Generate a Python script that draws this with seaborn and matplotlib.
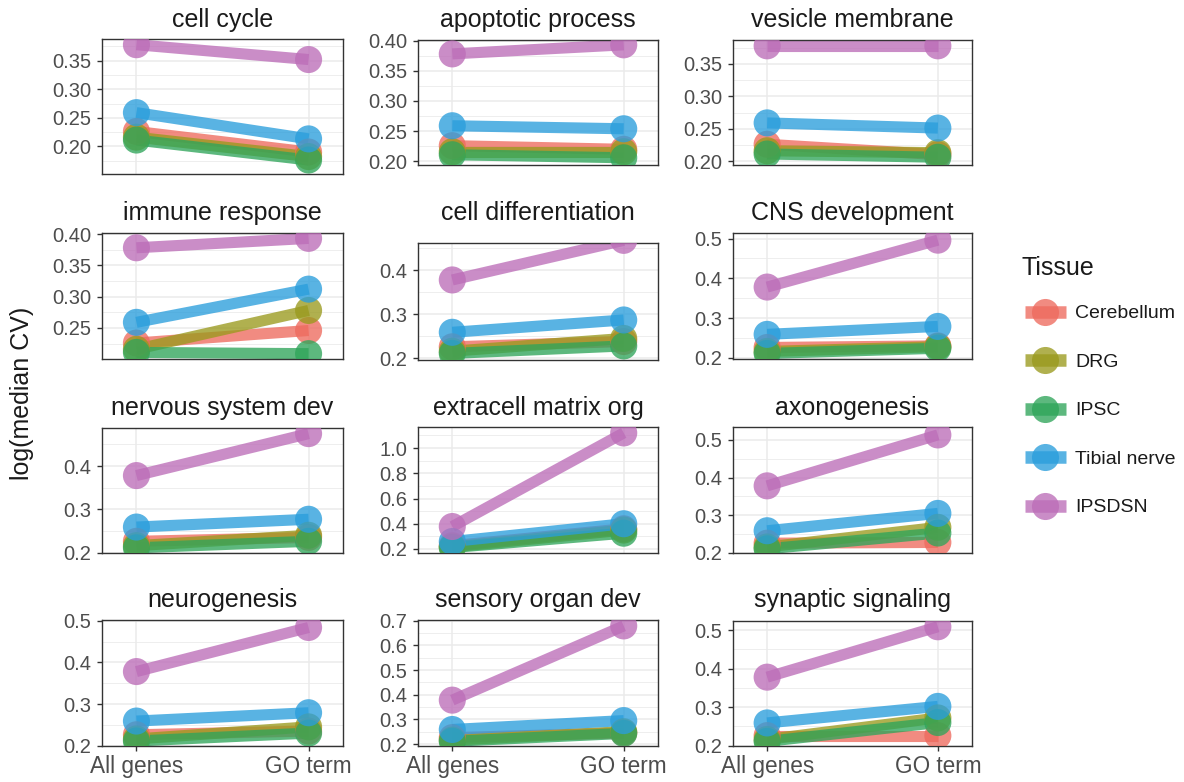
import matplotlib
matplotlib.use("Agg")
import matplotlib.pyplot as plt
from matplotlib.ticker import MultipleLocator, FormatStrFormatter
from matplotlib.lines import Line2D
import pandas as pd
import seaborn as sns

# ---- data -----------------------------------------------------------------
conditions = ["All genes", "GO term"]
tissues = ["Cerebellum", "DRG", "IPSC", "Tibial nerve", "IPSDSN"]
go_terms = ["cell cycle", "apoptotic process", "vesicle membrane",
            "immune response", "cell differentiation", "CNS development",
            "nervous system dev", "extracell matrix org", "axonogenesis",
            "neurogenesis", "sensory organ dev", "synaptic signaling"]

# log(median CV) over all genes, one value per tissue
all_genes_cv = [0.226, 0.216, 0.211, 0.259, 0.378]

# log(median CV) for the genes of each GO term, one list per tissue
cerebellum_go = [0.190, 0.220, 0.210, 0.246, 0.238, 0.230,
                 0.235, 0.360, 0.228, 0.235, 0.245, 0.226]
drg_go = [0.182, 0.216, 0.213, 0.278, 0.245, 0.228,
          0.240, 0.350, 0.268, 0.245, 0.250, 0.272]
ipsc_go = [0.176, 0.206, 0.206, 0.209, 0.228, 0.224,
           0.226, 0.325, 0.253, 0.230, 0.243, 0.260]
tibial_go = [0.213, 0.254, 0.251, 0.312, 0.287, 0.279,
             0.277, 0.400, 0.305, 0.279, 0.295, 0.302]
ipsdsn_go = [0.352, 0.393, 0.378, 0.393, 0.468, 0.496,
             0.475, 1.120, 0.513, 0.484, 0.679, 0.509]

go_values = [cerebellum_go, drg_go, ipsc_go, tibial_go, ipsdsn_go]

rows = []
for t_idx, tissue in enumerate(tissues):
    for g_idx, term in enumerate(go_terms):
        rows.append((term, tissue, 0, all_genes_cv[t_idx]))
        rows.append((term, tissue, 1, go_values[t_idx][g_idx]))
df = pd.DataFrame(rows, columns=["term", "Tissue", "pos", "cv"])

# ---- styling --------------------------------------------------------------
sns.set_theme(style="white")
plt.rcParams["font.family"] = ["Liberation Sans", "DejaVu Sans"]
plt.rcParams["lines.solid_capstyle"] = "butt"

palette = {
    "Cerebellum": "#EE6A5E",
    "DRG": "#9A9A1E",
    "IPSC": "#2FA55A",
    "Tibial nerve": "#2A9EDC",
    "IPSDSN": "#BC6DB8",
}
ALPHA = 0.78

# per-panel y axis ranges and tick steps
y_lims = [(0.1515, 0.388), (0.194, 0.401), (0.194, 0.387),
          (0.2005, 0.4016), (0.196, 0.462), (0.197, 0.514),
          (0.199, 0.488), (0.168, 1.167), (0.200, 0.534),
          (0.199, 0.502), (0.192, 0.703), (0.199, 0.524)]
y_steps = [0.05, 0.05, 0.05, 0.05, 0.1, 0.1, 0.1, 0.2, 0.1, 0.1, 0.1, 0.1]

# panel boxes in pixels: left, top, right, bottom
boxes = [(102, 39, 343, 174), (418, 40, 658, 165), (733, 40, 972, 165),
         (102, 233, 343, 359), (418, 243, 658, 360), (733, 233, 972, 359),
         (102, 428, 343, 553), (418, 427, 658, 553), (733, 427, 972, 553),
         (102, 620, 343, 746), (418, 620, 658, 746), (733, 621, 972, 746)]
# baseline of each row of panel titles, in pixels
title_base = [27, 220, 415, 607]

W, H = 1184, 782
fig = plt.figure(figsize=(W / 100, H / 100), dpi=100)
fig.patch.set_facecolor("white")

grid_col = "#EBEBEB"
for i, term in enumerate(go_terms):
    l, t, r, b = boxes[i]
    ax = fig.add_axes([l / W, 1 - b / H, (r - l) / W, (b - t) / H])
    sub = df[df["term"] == term]

    sns.lineplot(data=sub, x="pos", y="cv", hue="Tissue", hue_order=tissues,
                 palette=palette, linewidth=8, alpha=ALPHA, legend=False,
                 ax=ax, zorder=2)
    sns.scatterplot(data=sub, x="pos", y="cv", hue="Tissue",
                    hue_order=tissues, palette=palette, s=380, alpha=ALPHA,
                    linewidth=0, legend=False, ax=ax, zorder=3)

    step = y_steps[i]
    ax.set_ylim(*y_lims[i])
    ax.set_xlim(-0.2, 1.2)
    ax.yaxis.set_major_locator(MultipleLocator(step))
    ax.yaxis.set_minor_locator(MultipleLocator(step / 2))
    ax.yaxis.set_major_formatter(
        FormatStrFormatter("%.2f" if step < 0.1 else "%.1f"))
    ax.set_xticks([0, 1])

    ax.grid(which="major", axis="both", color=grid_col, linewidth=1.1, zorder=0)
    ax.grid(which="minor", axis="y", color=grid_col, linewidth=0.6, zorder=0)
    ax.set_axisbelow(True)

    ax.tick_params(axis="y", which="major", length=3.5, width=1.0,
                   color="#333333", labelsize=14.5, labelcolor="#4D4D4D",
                   pad=4.5, left=True)
    ax.tick_params(axis="y", which="minor", length=0)
    if i >= 9:
        ax.set_xticklabels(conditions)
        ax.tick_params(axis="x", length=3.5, width=1.0, color="#333333",
                       labelsize=16.3, labelcolor="#4D4D4D", pad=3,
                       bottom=True)
    else:
        ax.set_xticklabels([])
        ax.tick_params(axis="x", length=0)

    ax.set_xlabel("")
    ax.set_ylabel("")
    for sp in ax.spines.values():
        sp.set_color("#333333")
        sp.set_linewidth(1.0)
    pad_px = t - title_base[i // 3]
    ax.set_title(term, fontsize=18, pad=pad_px * 0.72, color="#1A1A1A")

fig.text(22 / W, 1 - 393 / H, "log(median CV)", rotation=90,
         ha="center", va="center", fontsize=18, color="#1A1A1A")

# legend: title drawn as text, keys as a title-less legend below it
fig.text(1022 / W, 1 - 268 / H, "Tissue", ha="left", va="center",
         fontsize=18, color="#1A1A1A")
handles = [Line2D([0], [0], color=palette[t], lw=9, alpha=ALPHA, marker="o",
                  markersize=19.5, markeredgewidth=0, solid_capstyle="butt")
           for t in tissues]
leg = fig.legend(handles, tissues, loc="upper left",
                 bbox_to_anchor=(1015 / W, 1 - 295 / H), frameon=False,
                 fontsize=14, handlelength=2.1, handletextpad=0.5,
                 labelspacing=1.59, borderpad=0)
for txt in leg.get_texts():
    txt.set_color("#1A1A1A")

fig.savefig("out.png", dpi=100)
